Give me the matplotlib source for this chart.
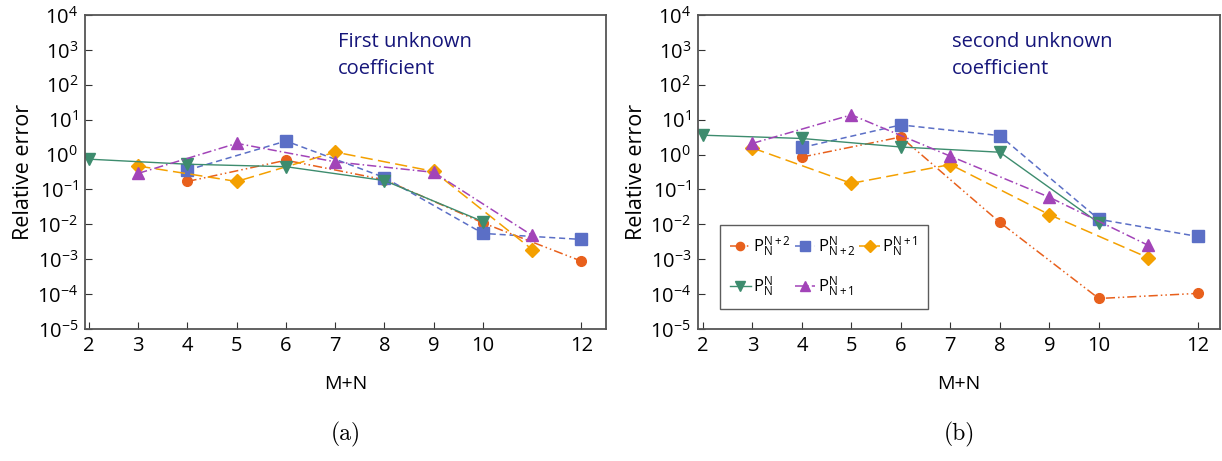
import matplotlib
matplotlib.use('Agg')
import matplotlib.pyplot as plt

plt.rcParams['font.family'] = ['Open Sans', 'DejaVu Sans']
plt.rcParams['mathtext.fontset'] = 'custom'
plt.rcParams['mathtext.rm'] = 'Open Sans'
plt.rcParams['mathtext.sf'] = 'Open Sans'
plt.rcParams['mathtext.it'] = 'Open Sans'

x_ticks = [2, 3, 4, 5, 6, 7, 8, 9, 10, 12]
x_even = [4, 6, 8, 10, 12]
x_odd = [3, 5, 7, 9, 11]
x_green = [2, 4, 6, 8, 10]

# panel (a): first unknown coefficient
a_circle = [0.17, 0.69, 0.19, 0.011, 0.00088]
a_square = [0.36, 2.45, 0.22, 0.0055, 0.0037]
a_diamond = [0.47, 0.17, 1.18, 0.33, 0.0019]
a_green = [0.74, 0.53, 0.45, 0.18, 0.012]
a_purple = [0.29, 2.1, 0.62, 0.31, 0.0048]

# panel (b): second unknown coefficient
b_circle = [0.85, 3.2, 0.0114, 7.5e-5, 1.05e-4]
b_square = [1.6, 7.1, 3.5, 0.014, 0.0045]
b_diamond = [1.55, 0.15, 0.52, 0.019, 0.0011]
b_green = [3.6, 2.9, 1.65, 1.17, 0.011]
b_purple = [2.1, 13.8, 0.9, 0.06, 0.0025]

labels = [r'$\mathsf{P}_{\mathsf{N}}^{\mathsf{N+2}}$',
          r'$\mathsf{P}_{\mathsf{N+2}}^{\mathsf{N}}$',
          r'$\mathsf{P}_{\mathsf{N}}^{\mathsf{N+1}}$',
          r'$\mathsf{P}_{\mathsf{N}}^{\mathsf{N}}$',
          r'$\mathsf{P}_{\mathsf{N+1}}^{\mathsf{N}}$']

c_circle = '#e8601c'
c_square = '#5b6fc6'
c_diamond = '#f4a000'
c_green = '#3d8c6e'
c_purple = '#a244b8'
navy = '#15157a'

fig = plt.figure(figsize=(12.22, 4.61), dpi=100)
ax1 = fig.add_axes([0.0696, 0.2863, 0.4264, 0.681])
ax2 = fig.add_axes([0.5712, 0.2863, 0.4272, 0.681])


def draw(ax, circle, square, diamond, green, purple):
    h = {}
    h['circle'], = ax.plot(x_even, circle, color=c_circle, marker='o', ms=7,
                           lw=1.1, dashes=[6, 2, 1, 2, 1, 2], label=labels[0])
    h['square'], = ax.plot(x_even, square, color=c_square, marker='s', ms=8,
                           lw=1.1, dashes=[4, 2.5], label=labels[1])
    h['diamond'], = ax.plot(x_odd, diamond, color=c_diamond, marker='D', ms=7.5,
                            lw=1.1, dashes=[8, 3.5], label=labels[2])
    h['green'], = ax.plot(x_green, green, color=c_green, marker='v', ms=8.5,
                          lw=1.0, label=labels[3])
    h['purple'], = ax.plot(x_odd, purple, color=c_purple, marker='^', ms=9,
                           lw=1.1, dashes=[6, 2, 1, 2], label=labels[4])
    ax.set_yscale('log')
    ax.set_ylim(1e-5, 1e4)
    ax.set_xticks(x_ticks)
    ax.set_xticklabels([str(t) for t in x_ticks])
    ax.set_yticks([10.0 ** k for k in range(-5, 5)])
    ax.minorticks_off()
    ax.tick_params(direction='in', labelsize=14.5, length=5, width=0.8,
                   colors='#333333', labelcolor='black', pad=5)
    for s in ax.spines.values():
        s.set_color('#555555')
        s.set_linewidth(1.3)
    ax.set_xlabel('M+N', fontsize=14, labelpad=14)
    ax.set_ylabel('Relative error', fontsize=15.5, labelpad=2)
    return h


draw(ax1, a_circle, a_square, a_diamond, a_green, a_purple)
ax1.set_xlim(1.92, 12.5)
ax1.text(0.485, 0.945, 'First unknown\ncoefficient', transform=ax1.transAxes,
         color=navy, fontsize=14.5, va='top', ha='left', linespacing=1.45)

h = draw(ax2, b_circle, b_square, b_diamond, b_green, b_purple)
ax2.set_xlim(1.9, 12.45)
ax2.text(0.487, 0.945, 'second unknown\ncoefficient', transform=ax2.transAxes,
         color=navy, fontsize=14.5, va='top', ha='left', linespacing=1.45)

order = ['circle', 'green', 'square', 'purple', 'diamond']
leg = ax2.legend([h[k] for k in order], [h[k].get_label() for k in order],
                 ncol=3, loc='lower left', bbox_to_anchor=(0.042, 0.065),
                 fontsize=12, frameon=True, fancybox=False, edgecolor='#333333',
                 handlelength=1.25, handletextpad=0.15, columnspacing=0.2,
                 labelspacing=0.9, borderpad=0.6, markerscale=0.85,
                 borderaxespad=0)
leg.get_frame().set_linewidth(1.0)

fig.text(0.2828, 0.045, '(a)', family='cmr10', fontsize=17, ha='center')
fig.text(0.7848, 0.045, '(b)', family='cmr10', fontsize=17, ha='center')

fig.savefig('out.png', dpi=100)
plt.close(fig)
